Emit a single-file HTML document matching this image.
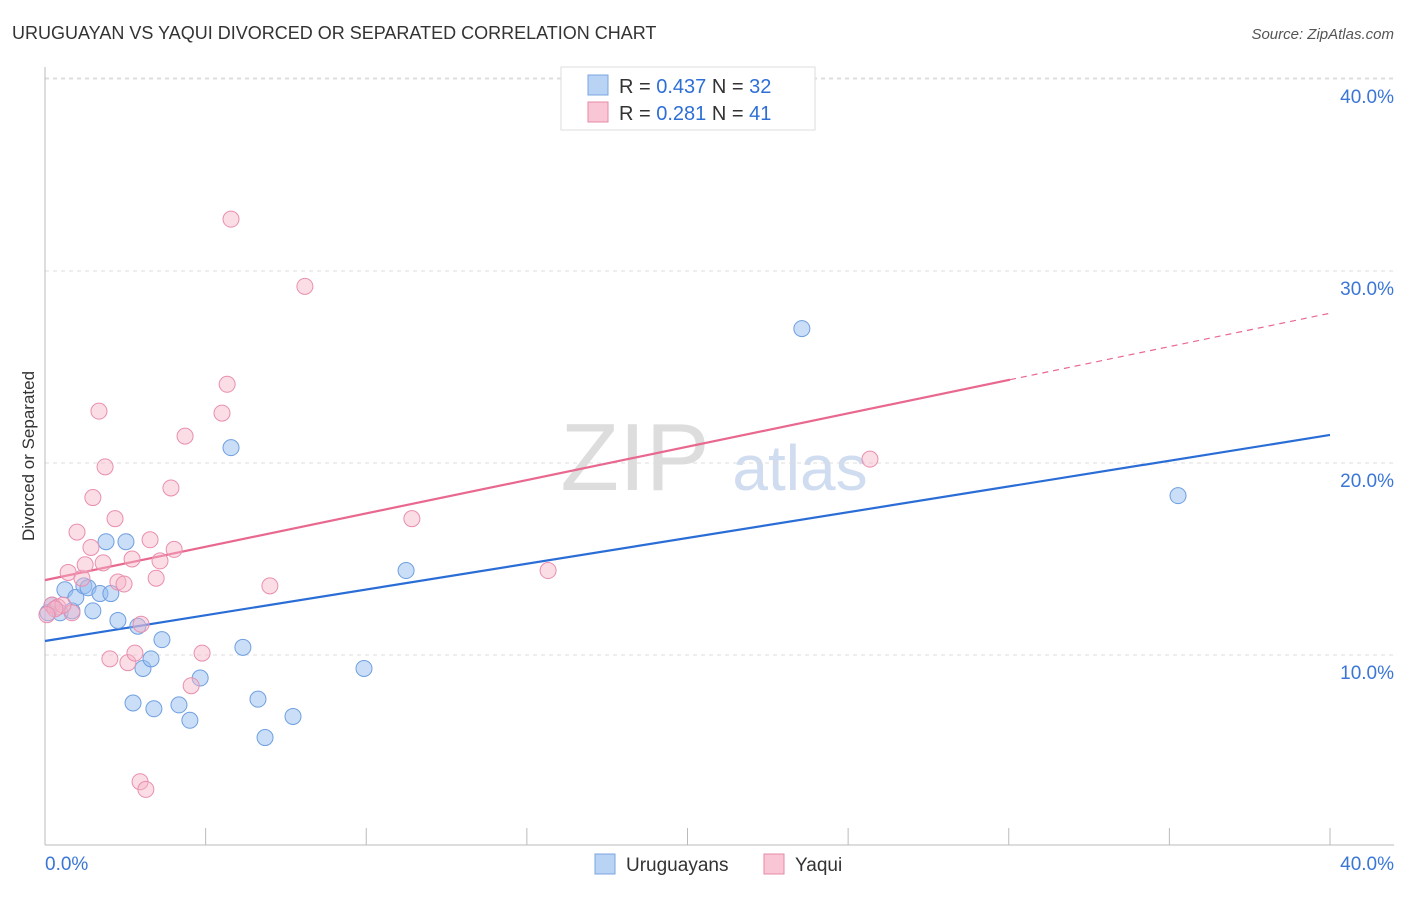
<!DOCTYPE html>
<html><head><meta charset="utf-8">
<style>
body{margin:0;background:#fff;font-family:"Liberation Sans",sans-serif;}
svg text{font-family:"Liberation Sans",sans-serif;}
</style></head>
<body>
<svg id="chart" width="1406" height="892" xmlns="http://www.w3.org/2000/svg">
<text x="12" y="39" font-size="18" fill="#333">URUGUAYAN VS YAQUI DIVORCED OR SEPARATED CORRELATION CHART</text>
<text x="1394" y="39" font-size="15" fill="#555" font-style="italic" text-anchor="end">Source: ZipAtlas.com</text>
<text x="34" y="456" font-size="17" fill="#333" text-anchor="middle" transform="rotate(-90 34 456)">Divorced or Separated</text>
<g><text x="635" y="490" font-size="96" fill="#ddd" font-family="Liberation Serif" text-anchor="middle">ZIP</text><text x="800" y="490" font-size="64" fill="#d0dcf0" text-anchor="middle">atlas</text></g>
<g id="grid"></g><g id="axes"></g><g id="trend"></g><g id="points"></g>
<g>
<rect x="561" y="67" width="254" height="63" fill="#fff" stroke="#ddd"/>
<rect x="588" y="75" width="20" height="20" fill="#b9d3f5" stroke="#7aa6e0"/>
<text x="619" y="93" font-size="20" fill="#333">R = <tspan fill="#2e6fd6">0.437</tspan>   N = <tspan fill="#2e6fd6">32</tspan></text>
<rect x="588" y="102" width="20" height="20" fill="#f9c6d6" stroke="#e88aa8"/>
<text x="619" y="120" font-size="20" fill="#333">R =  <tspan fill="#2e6fd6">0.281</tspan>   N =  <tspan fill="#2e6fd6">41</tspan></text>
</g>
<g>
<rect x="595" y="854" width="20" height="20" fill="#b9d3f5" stroke="#7aa6e0"/>
<text x="626" y="871" font-size="19" fill="#333">Uruguayans</text>
<rect x="764" y="854" width="20" height="20" fill="#f9c6d6" stroke="#e88aa8"/>
<text x="795" y="871" font-size="19" fill="#333">Yaqui</text>
</g>
</svg>
<script>
const blueX=[0.22,0.47,0.62,0.84,0.96,1.21,1.34,1.49,1.71,1.9,2.05,2.27,2.52,2.74,2.89,3.05,3.3,3.39,3.64,4.17,4.51,4.83,5.79,6.16,6.63,6.85,7.72,9.93,11.24,23.56,35.27,0.09];
const blueY=[12.6,12.2,13.4,12.3,13.0,13.6,13.5,12.3,13.2,15.9,13.2,11.8,15.9,7.5,11.5,9.3,9.8,7.2,10.8,7.4,6.6,8.8,20.8,10.4,7.7,5.7,6.8,9.3,14.4,27.0,18.3,12.2];
const pinkX=[0.22,0.4,0.72,0.84,0.996,1.15,1.25,1.43,1.49,1.68,1.81,1.87,2.02,2.18,2.27,2.46,2.58,2.71,2.8,2.96,2.99,3.14,3.27,3.46,3.58,3.92,4.02,4.36,4.55,4.89,5.51,5.67,5.79,7.0,8.09,11.42,15.66,25.68,0.56,0.31,0.06];
const pinkY=[12.6,12.5,14.3,12.2,16.4,14.0,14.7,15.6,18.2,22.7,14.8,19.8,9.8,17.1,13.8,13.7,9.6,15.0,10.1,3.4,11.6,3.0,16.0,14.0,14.9,18.7,15.5,21.4,8.4,10.1,22.6,24.1,32.7,13.6,29.2,17.1,14.4,20.2,12.6,12.4,12.1];
const blueTrend=[10.73,21.46];
const pinkTrend=[13.9,27.8];
const xTicks=[0,5,10,15,20,25,30,35,40];
const yTicks=[10,20,30,40];
const X=v=>45+v*32.125, Y=v=>847-v*19.2;
const NS='http://www.w3.org/2000/svg';
function mk(t,a,p){const e=document.createElementNS(NS,t);for(const k in a)e.setAttribute(k,a[k]);p.appendChild(e);return e;}
const grid=document.getElementById('grid'),axes=document.getElementById('axes');
yTicks.forEach(v=>{
 const l=mk('line',{x1:45,x2:1394,y1:Y(v),y2:Y(v),stroke:'#ddd','stroke-dasharray':'4,4'},grid);
 
 
 const t=mk('text',{x:1394,y:Y(v)+24,'font-size':19,fill:'#3a76d6','text-anchor':'end'},axes);
 t.textContent=v.toFixed(1)+'%';
 
 
});
mk('line',{x1:45,x2:1394,y1:Y(40)-1,y2:Y(40)-1,stroke:'#ddd','stroke-dasharray':'4,4'},grid);
const ax=mk('line',{x1:45,x2:1394,y1:845,y2:845,stroke:'#bbb'},axes);


const ay=mk('line',{x1:45,x2:45,y1:67,y2:845,stroke:'#bbb'},axes);


xTicks.forEach(v=>{mk('line',{x1:X(v),x2:X(v),y1:828,y2:845,stroke:'#bbb'},axes);});
const t0=mk('text',{x:45,y:870,'font-size':19,fill:'#3a76d6'},axes);t0.textContent='0.0%';


const t1=mk('text',{x:1394,y:870,'font-size':19,fill:'#3a76d6','text-anchor':'end'},axes);t1.textContent='40.0%';


const tr=document.getElementById('trend');
const bl=mk('line',{x1:X(0),y1:Y(blueTrend[0]),x2:X(40),y2:Y(blueTrend[1]),stroke:'#2a6dd6','stroke-width':2.2},tr);


const ps=(pinkTrend[1]-pinkTrend[0])/40, xe=30.04;
const pl=mk('line',{x1:X(0),y1:Y(pinkTrend[0]),x2:X(xe),y2:Y(pinkTrend[0]+ps*xe),stroke:'#e8688f','stroke-width':2.2},tr);


const pd=mk('line',{x1:X(xe),y1:Y(pinkTrend[0]+ps*xe),x2:X(40),y2:Y(pinkTrend[1]),stroke:'#e8688f','stroke-width':1.2,'stroke-dasharray':'6,5'},tr);


const pts=document.getElementById('points');
blueX.forEach((x,i)=>{const c=mk('circle',{cx:X(x),cy:Y(blueY[i]),r:8,fill:'rgba(150,190,240,0.5)',stroke:'#6f9fe0','stroke-width':1},pts);
 
 });
pinkX.forEach((x,i)=>{const c=mk('circle',{cx:X(x),cy:Y(pinkY[i]),r:8,fill:'rgba(246,180,200,0.45)',stroke:'#e98fae','stroke-width':1},pts);
 
 });
</script>
</body></html>
